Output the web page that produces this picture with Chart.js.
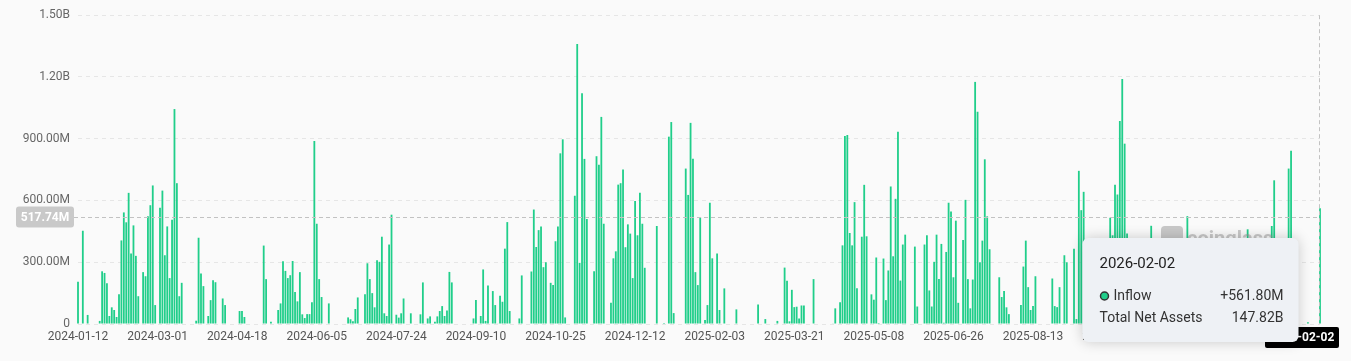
<!DOCTYPE html>
<html>
<head>
<meta charset="utf-8">
<script src="https://cdn.jsdelivr.net/npm/chart.js@4.4.1/dist/chart.umd.min.js"></script>
<style>
html, body { margin: 0; padding: 0; background: #fafafa; }
#wrap { width: 1351px; height: 361px; position: relative; }
</style>
</head>
<body>
<div id="wrap"><canvas id="flowChart" width="1351" height="361"></canvas></div>
<script>
// x tick labels, one every 33 trading days
const tickLabels = ['2024-01-12', '2024-03-01', '2024-04-18', '2024-06-05', '2024-07-24', '2024-09-10',
    '2024-10-25', '2024-12-12', '2025-02-03', '2025-03-21', '2025-05-08', '2025-06-26',
    '2025-08-13', '2025-09-30', '2025-11-13', '2025-12-31'];
const tickStep = 33;

// daily inflow, millions USD
const inflow = [
    205, 0, 453, 0, 44, 0, 0, 0, 0, 15,
    256, 248, 198, 39, 81, 68, 34, 145, 406, 542,
    494, 637, 342, 479, 331, 135, 0, 252, 232, 523,
    577, 673, 92, 0, 565, 648, 334, 474, 223, 506,
    1044, 684, 135, 200, 0, 0, 0, 0, 0, 16,
    419, 245, 184, 0, 39, 116, 213, 203, 0, 0,
    124, 92, 0, 0, 0, 0, 0, 63, 63, 34,
    0, 0, 0, 0, 0, 0, 0, 381, 218, 0,
    11, 0, 0, 68, 100, 305, 258, 223, 237, 306,
    155, 110, 252, 47, 29, 48, 48, 106, 889, 487,
    218, 131, 0, 0, 100, 0, 0, 0, 0, 0,
    0, 0, 32, 23, 13, 73, 129, 0, 0, 144,
    295, 218, 150, 81, 310, 302, 424, 52, 39, 386,
    531, 0, 45, 31, 52, 124, 0, 0, 52, 0,
    0, 0, 47, 202, 0, 27, 37, 0, 11, 37,
    63, 87, 39, 66, 253, 202, 0, 0, 0, 0,
    0, 0, 0, 0, 27, 116, 0, 39, 265, 15,
    187, 0, 160, 92, 3, 137, 108, 366, 495, 63,
    0, 0, 0, 27, 236, 0, 0, 0, 255, 556,
    374, 456, 474, 276, 300, 0, 200, 189, 402, 474,
    829, 897, 32, 0, 0, 0, 623, 1360, 297, 1121,
    802, 510, 0, 0, 256, 815, 774, 1006, 487, 0,
    0, 103, 319, 353, 677, 684, 750, 373, 484, 439,
    223, 597, 431, 637, 487, 273, 0, 0, 0, 0,
    476, 0, 0, 5, 0, 910, 981, 53, 0, 0,
    0, 0, 755, 627, 977, 803, 252, 189, 518, 0,
    19, 92, 589, 319, 0, 342, 68, 0, 173, 0,
    0, 0, 0, 71, 0, 0, 0, 0, 0, 0,
    0, 0, 95, 0, 0, 24, 0, 0, 0, 0,
    15, 0, 0, 274, 210, 13, 166, 82, 84, 27,
    90, 90, 0, 0, 0, 218, 0, 0, 0, 0,
    0, 0, 0, 3, 76, 0, 106, 382, 913, 918,
    442, 382, 592, 174, 0, 424, 676, 426, 0, 144,
    118, 323, 5, 0, 318, 116, 260, 668, 329, 608,
    934, 211, 386, 434, 0, 0, 0, 376, 85, 0,
    0, 386, 431, 163, 85, 302, 434, 218, 389, 6,
    350, 589, 547, 227, 502, 103, 0, 408, 603, 218,
    76, 216, 1176, 1031, 300, 405, 800, 523, 363, 0,
    0, 0, 227, 131, 160, 81, 48, 0, 0, 0,
    0, 92, 279, 405, 179, 68, 87, 232, 0, 0,
    0, 0, 0, 0, 221, 87, 82, 179, 0, 334,
    300, 0, 0, 365, 24, 744, 553, 642, 220, 95,
    0, 0, 150, 260, 120, 0, 310, 180, 516, 431,
    676, 629, 986, 1190, 876, 439, 240, 120, 0, 0,
    90, 200, 0, 330, 150, 477, 280, 60, 0, 0,
    110, 0, 230, 340, 0, 80, 0, 0, 190, 300,
    524, 210, 0, 0, 120, 0, 60, 0, 0, 0,
    150, 0, 90, 0, 0, 40, 0, 0, 130, 0,
    0, 250, 70, 0, 310, 460, 180, 0, 90, 0,
    0, 60, 0, 220, 340, 476, 698, 150, 0, 0,
    110, 360, 755, 842, 80, 40, 0, 0, 0, 0,
    8, 0, 0, 0, 0, 561.8
];

const lastDate = '2026-02-02';
const pointerValue = 517.74;   // where the mouse sits on the y axis
const totalNetAssets = 147.82; // billions

const categories = inflow.map((v, i) => {
    if (i === inflow.length - 1) return lastDate;
    return i % tickStep === 0 ? tickLabels[i / tickStep] : 'd' + i;
});

const green = 'rgb(32, 206, 138)';
const font = 'Roboto';

function fmtMoney(v) {
    if (v === 0) return '0';
    if (v >= 1000) return (v / 1000).toFixed(2) + 'B';
    return v.toFixed(2) + 'M';
}

function roundRect(ctx, x, y, w, h, r) {
    ctx.beginPath();
    ctx.moveTo(x + r, y);
    ctx.arcTo(x + w, y, x + w, y + h, r);
    ctx.arcTo(x + w, y + h, x, y + h, r);
    ctx.arcTo(x, y + h, x, y, r);
    ctx.arcTo(x, y, x + w, y, r);
    ctx.closePath();
}

// crosshair, axis pointer labels, watermark and the hover box
const overlay = {
    id: 'overlay',
    afterDraw(chart) {
        const ctx = chart.ctx;
        const a = chart.chartArea;
        const xs = chart.scales.x, ys = chart.scales.y;
        const last = inflow.length - 1;
        const px = Math.round(xs.getPixelForValue(last)) - 0.5;
        const py = Math.round(ys.getPixelForValue(pointerValue)) + 0.5;

        ctx.save();
        ctx.strokeStyle = '#c2c2c2';
        ctx.lineWidth = 1;
        ctx.setLineDash([4, 3]);
        ctx.beginPath();
        ctx.moveTo(a.left - 4, py);
        ctx.lineTo(a.right, py);
        ctx.moveTo(px, a.top);
        ctx.lineTo(px, a.bottom);
        ctx.stroke();
        ctx.setLineDash([]);

        // y pointer label
        ctx.fillStyle = '#c9c9c9';
        roundRect(ctx, 16, py - 11, 58, 21, 3);
        ctx.fill();
        ctx.fillStyle = '#fff';
        ctx.font = 'bold 12px ' + font;
        ctx.textAlign = 'center';
        ctx.textBaseline = 'middle';
        ctx.fillText(fmtMoney(pointerValue), 45, py);

        // x pointer label
        const bw = 74;
        const bx = Math.min(px - bw / 2, chart.width - 12 - bw);
        ctx.fillStyle = '#000';
        roundRect(ctx, bx, a.bottom + 3, bw, 21, 2);
        ctx.fill();
        ctx.fillStyle = '#fff';
        ctx.fillText(lastDate, bx + bw / 2, a.bottom + 14);

        // watermark
        ctx.fillStyle = 'rgba(150, 150, 150, 0.5)';
        roundRect(ctx, 1161, 226, 22, 18, 4);
        ctx.fill();
        ctx.font = 'bold 20px ' + font;
        ctx.textAlign = 'left';
        ctx.textBaseline = 'alphabetic';
        ctx.fillText('coinglass', 1187, 245);

        // hover box
        const tx = px - 237, ty = 238, tw = 216, th = 104;
        ctx.shadowColor = 'rgba(0, 0, 0, 0.2)';
        ctx.shadowBlur = 14;
        ctx.fillStyle = '#eef1f5';
        roundRect(ctx, tx, ty, tw, th, 6);
        ctx.fill();
        ctx.shadowColor = 'transparent';
        ctx.shadowBlur = 0;

        ctx.textBaseline = 'middle';
        ctx.fillStyle = '#222';
        ctx.font = '15px ' + font;
        ctx.fillText(lastDate, tx + 17, ty + 26);

        ctx.beginPath();
        ctx.arc(tx + 22, ty + 58, 4, 0, Math.PI * 2);
        ctx.fillStyle = green;
        ctx.fill();
        ctx.lineWidth = 1.5;
        ctx.strokeStyle = '#333';
        ctx.stroke();

        ctx.font = '14px ' + font;
        ctx.fillStyle = '#333';
        ctx.fillText('Inflow', tx + 31, ty + 58);
        ctx.fillText('Total Net Assets', tx + 17, ty + 80);
        ctx.textAlign = 'right';
        ctx.fillText('+' + fmtMoney(inflow[last]), tx + tw - 15, ty + 58);
        ctx.fillText(totalNetAssets.toFixed(2) + 'B', tx + tw - 15, ty + 80);
        ctx.restore();
    }
};

const ctx = document.getElementById('flowChart').getContext('2d');
const flowChart = new Chart(ctx, {
    type: 'bar',
    data: {
        labels: categories,
        datasets: [{
            label: 'Inflow',
            data: inflow,
            backgroundColor: green,
            barPercentage: 0.75,
            categoryPercentage: 1,
            clip: false
        }]
    },
    options: {
        responsive: false,
        animation: false,
        devicePixelRatio: 1,
        layout: { padding: { top: 14, right: 31, left: 0, bottom: 0 } },
        plugins: {
            legend: { display: false },
            tooltip: { enabled: false }
        },
        scales: {
            x: {
                offset: false,
                grid: { display: false, drawTicks: false },
                border: { display: false },
                ticks: {
                    autoSkip: false,
                    maxRotation: 0,
                    minRotation: 0,
                    padding: 6,
                    color: '#555',
                    font: { family: font, size: 12 },
                    callback: (v, i) => i % tickStep === 0 ? tickLabels[i / tickStep] : null
                },
                afterFit: s => { s.height = 37; }
            },
            y: {
                min: 0,
                max: 1500,
                ticks: {
                    stepSize: 300,
                    padding: 8,
                    color: '#666',
                    font: { family: font, size: 12 },
                    callback: v => fmtMoney(v)
                },
                grid: { color: '#e6e6e6', drawTicks: false },
                border: { display: false, dash: [4, 4] },
                afterFit: s => { s.width = 78; }
            }
        }
    },
    plugins: [overlay]
});
</script>
</body>
</html>
